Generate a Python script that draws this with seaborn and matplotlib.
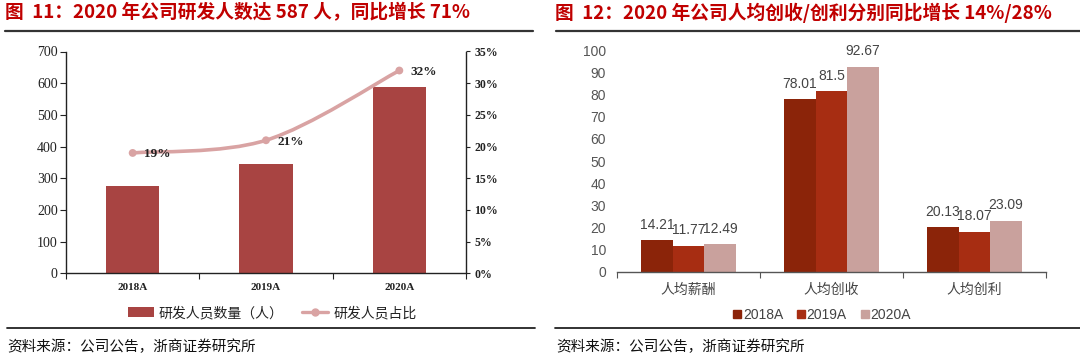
import numpy as np
import pandas as pd
import matplotlib
matplotlib.use("Agg")
import matplotlib.pyplot as plt
import seaborn as sns
from matplotlib.lines import Line2D
from matplotlib.patches import Patch, PathPatch
from matplotlib.path import Path
from matplotlib.ticker import PercentFormatter, MultipleLocator

# ---------------- data ----------------
years = ["2018A", "2019A", "2020A"]
rd_staff = [275, 346, 587]
rd_share = [0.19, 0.21, 0.32]
rd_share_labels = ["19%", "21%", "32%"]

metrics = ["人均薪酬", "人均创收", "人均创利"]
series_names = ["2018A", "2019A", "2020A"]
val_2018 = [14.21, 78.01, 20.13]
val_2019 = [11.77, 81.5, 18.07]
val_2020 = [12.49, 92.67, 23.09]
val_labels_2018 = ["14.21", "78.01", "20.13"]
val_labels_2019 = ["11.77", "81.5", "18.07"]
val_labels_2020 = ["12.49", "92.67", "23.09"]

title_left = "图  11：2020 年公司研发人数达 587 人，同比增长 71%"
title_right = "图  12：2020 年公司人均创收/创利分别同比增长 14%/28%"
source_text = "资料来源：公司公告，浙商证券研究所"

# ---------------- style ----------------
sns.set_theme(style="white")
plt.rcParams['font.family'] = ['Noto Sans CJK SC', 'DejaVu Sans']
plt.rcParams['axes.unicode_minus'] = False

W, H = 1080, 360
fig = plt.figure(figsize=(W / 100, H / 100), dpi=100)

def fx(px):
    return px / W

def fy(py):
    return 1 - py / H

TITLE_RED = "#C00000"
SERIF = ['Liberation Serif', 'DejaVu Serif']
SANS = ['Liberation Sans', 'DejaVu Sans']

# titles and rules
fig.text(fx(5), fy(13), title_left, color=TITLE_RED, fontsize=13.5, fontweight='bold',
         va='center', ha='left')
fig.text(fx(555), fy(13), title_right, color=TITLE_RED, fontsize=13.5, fontweight='bold',
         va='center', ha='left')
for x0, x1 in [(5, 533), (556, 1080)]:
    fig.add_artist(Line2D([fx(x0), fx(x1)], [fy(31), fy(31)], color="#333333", lw=1.6))
for x0, x1 in [(7, 535), (555, 1080)]:
    fig.add_artist(Line2D([fx(x0), fx(x1)], [fy(328), fy(328)], color="#222222", lw=1.3))
fig.text(fx(7), fy(347), source_text, fontsize=10.5, color="#111111", va='center', ha='left')
fig.text(fx(556), fy(347), source_text, fontsize=10.5, color="#111111", va='center', ha='left')

# ---------------- left chart ----------------
axL = fig.add_axes([fx(66), fy(273.4), fx(400), (273.4 - 51.5) / H])
BAR_RED = "#A84442"
LINE_PINK = "#D9A3A3"
df_left = pd.DataFrame({"year": years, "staff": rd_staff})
sns.barplot(data=df_left, x="year", y="staff", color=BAR_RED, width=0.4,
            saturation=1, ax=axL, edgecolor='none')
axL.set_xlim(-0.5, 2.5)
axL.set_ylim(0, 700)
axL.yaxis.set_major_locator(MultipleLocator(100))
axL.set_xlabel("")
axL.set_ylabel("")
for s in ["top", "right"]:
    axL.spines[s].set_visible(False)
for s in ["left", "bottom"]:
    axL.spines[s].set_color("#222222")
    axL.spines[s].set_linewidth(1.0)
axL.tick_params(axis='y', which='major', direction='out', length=4, width=0.8,
                color="#222222", labelsize=10, labelcolor="#222222", pad=2, left=True)
axL.tick_params(axis='x', which='major', length=0, labelsize=8, labelcolor="#222222", pad=7)
axL.set_xticks(range(3))
axL.set_xticks([-0.5, 0.5, 1.5, 2.5], minor=True)
axL.tick_params(axis='x', which='minor', direction='out', length=4, width=0.8, color="#222222", bottom=True)
for lab in axL.get_yticklabels() + axL.get_xticklabels():
    lab.set_family(SERIF)
for lab in axL.get_xticklabels():
    lab.set_fontweight('bold')

axR2 = axL.twinx()
axR2.set_ylim(0, 0.35)
axR2.yaxis.set_major_locator(MultipleLocator(0.05))
axR2.yaxis.set_major_formatter(PercentFormatter(1.0, decimals=0))
for s in ["top", "left", "bottom"]:
    axR2.spines[s].set_visible(False)
axR2.spines["right"].set_color("#222222")
axR2.spines["right"].set_linewidth(1.0)
axR2.tick_params(axis='y', direction='out', length=3, width=0.8, color="#222222",
                 labelsize=8.5, labelcolor="#222222", pad=3, right=True)
for lab in axR2.get_yticklabels():
    lab.set_family(SERIF)
    lab.set_fontweight('bold')

# smooth line (Excel-style bezier through the data points)
xs = np.arange(len(rd_share), dtype=float)
ys = np.array(rd_share, dtype=float)
verts = [(xs[0], ys[0])]
codes = [Path.MOVETO]
t = 1 / 6
for i in range(len(xs) - 1):
    p0 = (xs[max(i - 1, 0)], ys[max(i - 1, 0)])
    p1 = (xs[i], ys[i])
    p2 = (xs[i + 1], ys[i + 1])
    p3 = (xs[min(i + 2, len(xs) - 1)], ys[min(i + 2, len(xs) - 1)])
    c1 = (p1[0] + (p2[0] - p0[0]) * t, p1[1] + (p2[1] - p0[1]) * t)
    c2 = (p2[0] - (p3[0] - p1[0]) * t, p2[1] - (p3[1] - p1[1]) * t)
    verts += [c1, c2, p2]
    codes += [Path.CURVE4] * 3
axR2.add_patch(PathPatch(Path(verts, codes), facecolor='none', edgecolor=LINE_PINK, lw=2.6, zorder=3))
sns.scatterplot(x=xs, y=ys, ax=axR2, color=LINE_PINK, s=32, edgecolor='none', zorder=4, legend=False)
for xi, yi, lab in zip(xs, ys, rd_share_labels):
    axR2.annotate(lab, (xi, yi), xytext=(8, -1), textcoords='offset points', ha='left', va='center',
                  fontsize=9.5, fontweight='bold', family=SERIF, color="#222222")
axR2.set_xlim(-0.5, 2.5)

handles = [Patch(facecolor=BAR_RED, edgecolor='none'),
           Line2D([0], [0], color=LINE_PINK, lw=2.4, marker='o', markersize=5)]
fig.legend(handles, ["研发人员数量（人）", "研发人员占比"], loc='center',
           bbox_to_anchor=(fx(272), fy(313)), ncol=2, frameon=False, fontsize=10,
           handlelength=1.9, handleheight=0.8, columnspacing=1.3, handletextpad=0.35,
           labelcolor="#222222")

# ---------------- right chart ----------------
axB = fig.add_axes([fx(617), fy(271.7), fx(429), (271.7 - 50.5) / H])
C18, C19, C20 = "#8B2409", "#A72D12", "#C9A19D"
df_right = pd.DataFrame({
    "metric": metrics * 3,
    "year": [series_names[0]] * 3 + [series_names[1]] * 3 + [series_names[2]] * 3,
    "value": val_2018 + val_2019 + val_2020,
})
sns.barplot(data=df_right, x="metric", y="value", hue="year", hue_order=series_names,
            palette=[C18, C19, C20], width=0.66, saturation=1, gap=0, ax=axB,
            edgecolor='none', legend=False)
axB.set_xlim(-0.5, 2.5)
axB.set_ylim(0, 100)
axB.yaxis.set_major_locator(MultipleLocator(10))
axB.set_xlabel("")
axB.set_ylabel("")
for s in ["top", "right", "left"]:
    axB.spines[s].set_visible(False)
axB.spines["bottom"].set_color("#555555")
axB.spines["bottom"].set_linewidth(1.0)
axB.tick_params(axis='y', length=0, labelsize=10, labelcolor="#555555", pad=8)
axB.tick_params(axis='x', which='major', length=0, labelsize=10, labelcolor="#444444", pad=8)
axB.set_xticks([-0.5, 0.5, 1.5, 2.5], minor=True)
axB.tick_params(axis='x', which='minor', direction='out', length=4, width=0.8, color="#555555", bottom=True)
for lab in axB.get_yticklabels():
    lab.set_family(SANS)

label_sets = [val_labels_2018, val_labels_2019, val_labels_2020]
for cont, labs in zip(axB.containers, label_sets):
    axB.bar_label(cont, labels=labs, padding=6, fontsize=10, color="#444444", family=SANS)

handlesB = [Line2D([0], [0], color=c, marker='s', linestyle='none', markersize=6)
            for c in (C18, C19, C20)]
fig.legend(handlesB, series_names, loc='center', bbox_to_anchor=(fx(822), fy(315)), ncol=3,
           frameon=False, handlelength=0.6, handletextpad=0.1, columnspacing=1.0,
           labelcolor="#444444", prop={'family': SANS, 'size': 10})

fig.savefig("out.png", dpi=100, facecolor='white')
